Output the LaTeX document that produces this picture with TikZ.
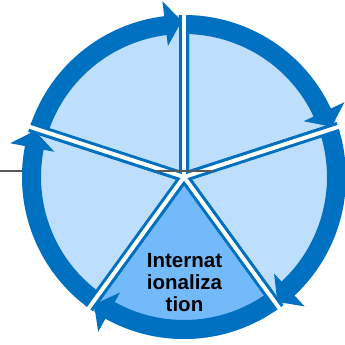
\documentclass[tikz,border=0pt]{standalone}
\usepackage{fontspec}
\setmainfont{Liberation Sans}
\definecolor{ringblue}{RGB}{0,112,192}
\definecolor{lightfill}{RGB}{189,223,253}
\definecolor{midfill}{RGB}{115,186,250}
\definecolor{leader}{RGB}{90,90,90}
\tikzset{
  wedge/.style={draw=ringblue, line width=10pt, line join=round},
  gapline/.style={draw=white, line width=4pt, line cap=round},
  ringarrow/.style={fill=ringblue},
  leaderline/.style={draw=leader, line width=1.4pt},
  label/.style={font=\bfseries\fontsize{20.5}{22}\selectfont, anchor=base, inner sep=0pt}
}
\begin{document}
\begin{tikzpicture}[x=1pt,y=1pt]
\useasboundingbox (0,0) rectangle (345,345);
\coordinate (c) at (184,168);
\coordinate (g0) at (0,174);
\coordinate (g1) at (213,174);
\coordinate (g2) at (155,174);
\path[leaderline] (g0) -- (g1);
% wedges
\begin{scope}
  \clip (c) circle (162);
  \foreach \a/\col in {90/lightfill,18/lightfill,-54/midfill,-126/lightfill,162/lightfill}{
    \path[wedge, fill=\col] (c) -- ++(\a:175) arc[start angle=\a, end angle=\a-72, radius=175] -- cycle;
  }
\end{scope}
% white gaps
\foreach \a in {90,18,-54,-126,162}{
  \path[gapline] (c) -- ++(\a:168);
}
\path[leaderline] (g2) -- (g1);
% ring arrows
\begin{scope}[shift={(c)}]
  \foreach \a in {90,18,-54,-126,162}{
    \pgfmathsetmacro{\s}{\a-1.5}
    \pgfmathsetmacro{\b}{\a-72+7}
    \pgfmathsetmacro{\t}{\a-72+0.8}
    \path[ringarrow] (\s:143) arc[start angle=\s, end angle=\b, radius=143]
      -- (\b:132) -- (\t:156) -- (\b:177) -- (\b:162)
      arc[start angle=\b, end angle=\s, radius=162] -- cycle;
  }
\end{scope}
\node[label] (t1) at (184.5,77) {Internat};
\node[label] (t2) at (184.5,55) {ionaliza};
\node[label] (t3) at (184.5,33) {tion};
\end{tikzpicture}
\end{document}
